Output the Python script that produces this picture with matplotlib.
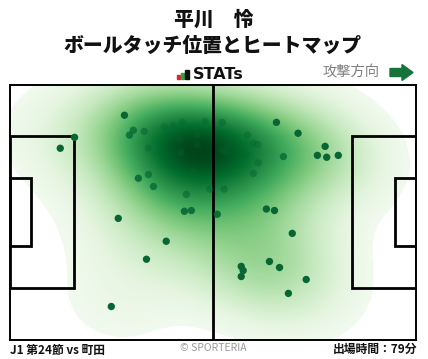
import numpy as np
import matplotlib
matplotlib.use("Agg")
import matplotlib.pyplot as plt
from matplotlib.patches import Rectangle, Polygon

plt.rcParams['font.family'] = ['Noto Sans CJK JP', 'DejaVu Sans']

PITCH_LENGTH = 105.0
PITCH_WIDTH = 68.0

player_name = "平川　怜"
chart_title = "ボールタッチ位置とヒートマップ"
match_label = "J1 第24節 vs 町田"
minutes_label = "出場時間：79分"
credit_label = "© SPORTERIA"
attack_label = "攻撃方向"

# ball touch positions in metres: x along the pitch (attacking right), y from the top touchline
touch_x = [29.6, 31.9, 30.9, 34.7, 16.7, 13.0, 35.8, 33.2, 35.8, 37.1,
           45.6, 51.7, 44.6, 50.5, 39.9, 42.2, 40.9, 44.0, 48.4, 48.4,
           44.2, 41.6, 43.3, 47.4, 54.9, 68.9, 74.5, 61.4, 57.1, 56.4,
           54.9, 55.9, 62.9, 64.0, 61.2, 70.7, 81.5, 79.5, 81.9, 84.9,
           64.2, 62.9, 55.4, 66.3, 68.4, 45.1, 46.9, 53.6, 28.0, 40.4,
           35.3, 26.2, 73.0, 67.1, 69.7, 59.8, 60.3, 59.8, 76.6, 72.0]
touch_y = [8.2, 12.2, 13.5, 12.5, 14.1, 17.0, 17.0, 25.0, 24.0, 27.2,
           29.3, 27.9, 10.1, 9.8, 11.3, 11.0, 12.7, 14.4, 13.5, 16.0,
           18.1, 21.3, 22.0, 23.2, 10.1, 10.1, 13.0, 13.5, 14.1, 16.2,
           17.3, 18.1, 15.7, 16.0, 18.5, 19.2, 16.5, 18.9, 19.4, 18.9,
           20.9, 23.7, 27.9, 33.2, 33.6, 33.8, 33.6, 34.6, 35.7, 41.8,
           46.6, 59.2, 39.7, 47.2, 48.8, 48.5, 49.6, 51.2, 52.0, 55.7]

W, H = 428, 359
fig = plt.figure(figsize=(W / 100, H / 100), dpi=100)
fig.patch.set_facecolor("white")

ax = fig.add_axes([10 / W, (H - 339.5) / H, 406 / W, 255 / H])
ax.set_xlim(0, PITCH_LENGTH)
ax.set_ylim(PITCH_WIDTH, 0)
ax.set_xticks([])
ax.set_yticks([])
for s in ax.spines.values():
    s.set_linewidth(1.4)
    s.set_color("black")
    s.set_zorder(10)

# Gaussian kernel density estimate (widened Scott bandwidth, full covariance)
bw_adjust = 1.35
pts = np.vstack([touch_x, touch_y])
n = pts.shape[1]
cov = np.cov(pts) * n ** (-1.0 / 3.0) * bw_adjust ** 2
inv = np.linalg.inv(cov)


def density(xs, ys):
    out = np.zeros_like(xs, dtype=float)
    for px, py in zip(touch_x, touch_y):
        dx = xs - px
        dy = ys - py
        q = inv[0, 0] * dx * dx + 2 * inv[0, 1] * dx * dy + inv[1, 1] * dy * dy
        out += np.exp(-0.5 * q)
    return out


gx = np.linspace(0, PITCH_LENGTH, 420)
gy = np.linspace(0, PITCH_WIDTH, 272)
GX, GY = np.meshgrid(gx, gy)
dens = density(GX, GY)
peak = dens.max()
dens /= peak

thresh = 0.035
shade = np.clip((dens - thresh) / (1 - thresh), 0, 1) ** 0.92
rgba = plt.get_cmap("Greens")(shade * 0.96 + 0.04)
rgba[..., 3] = np.where(dens < thresh, 0.0, 1.0)
ax.imshow(rgba, extent=(0, PITCH_LENGTH, PITCH_WIDTH, 0), origin="upper",
          interpolation="bilinear", aspect="auto", zorder=1)

# pitch markings
lw = 2.0
ax.plot([PITCH_LENGTH / 2, PITCH_LENGTH / 2], [0, PITCH_WIDTH], color="black", lw=lw, zorder=5)
pb_d, pb_w = 16.5, 40.32
ga_d, ga_w = 5.5, 18.32
cy = PITCH_WIDTH / 2
for x0, d in [(0, pb_d), (PITCH_LENGTH - pb_d, pb_d)]:
    ax.add_patch(Rectangle((x0, cy - pb_w / 2), d, pb_w, fill=False, ec="black", lw=lw, zorder=5))
for x0, d in [(0, ga_d), (PITCH_LENGTH - ga_d, ga_d)]:
    ax.add_patch(Rectangle((x0, cy - ga_w / 2), d, ga_w, fill=False, ec="black", lw=lw, zorder=5))

# touches fade into the densest part of the heatmap
local = density(np.array(touch_x), np.array(touch_y)) / peak
dot_rgba = np.tile(np.array(matplotlib.colors.to_rgba("#076634")), (len(touch_x), 1))
dot_rgba[:, 3] = 1.0 - 0.75 * np.clip((local - 0.5) / 0.4, 0, 1)
ax.scatter(touch_x, touch_y, s=28, c=dot_rgba, edgecolors="none", zorder=6)

# titles
fig.text(214 / W, 1 - 20 / H, player_name, ha="center", va="center",
         fontsize=14.3, fontweight="black", color="#111111")
fig.text(213 / W, 1 - 46 / H, chart_title, ha="center", va="center",
         fontsize=14.3, fontweight="black", color="#111111")

# STATs logo
logo = fig.add_axes([0, 0, 1, 1], facecolor="none")
logo.set_xlim(0, W)
logo.set_ylim(H, 0)
logo.axis("off")
logo.add_patch(Rectangle((177.3, 75.3), 3.0, 4.0, color="#e0262b"))
logo.add_patch(Rectangle((181.0, 73.3), 3.0, 6.0, color="#2aa14a"))
logo.add_patch(Rectangle((185.3, 69.8), 3.6, 9.5, color="#111111"))
logo.text(193, 74.5, "STATs", ha="left", va="center", fontsize=11.5,
          fontweight="bold", color="#111111", family="DejaVu Sans")

# attack direction
logo.text(323, 72, attack_label, ha="left", va="center", fontsize=10.3, color="#808080")
logo.add_patch(Polygon([(390, 68.5), (402, 68.5), (402, 64.5), (413, 72.5),
                        (402, 80.5), (402, 76.5), (390, 76.5)], closed=True,
                       color="#17733a"))

# footer
fig.text(10 / W, 1 - 350 / H, match_label, ha="left", va="center",
         fontsize=8.5, fontweight="bold", color="#111111")
fig.text(213 / W, 1 - 348 / H, credit_label, ha="center", va="center",
         fontsize=7.5, color="#999999")
fig.text(417 / W, 1 - 349 / H, minutes_label, ha="right", va="center",
         fontsize=8.5, fontweight="bold", color="#111111")

fig.savefig("out.png", dpi=100)
